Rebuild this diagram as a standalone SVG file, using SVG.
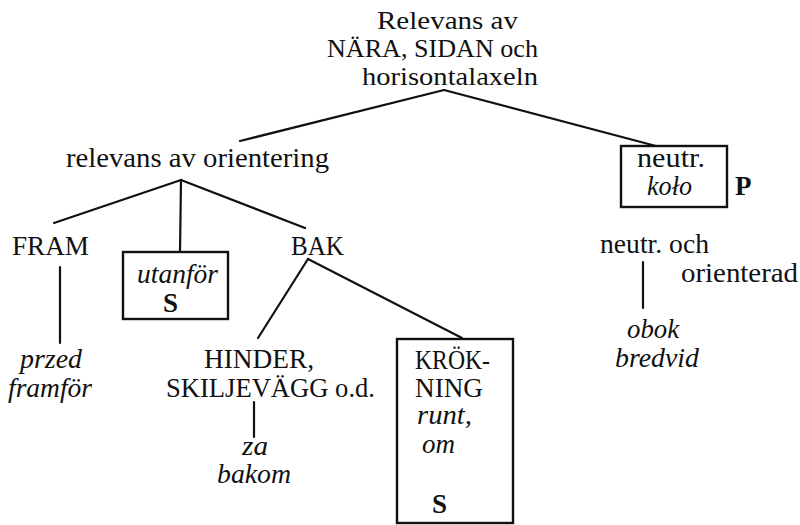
<svg xmlns="http://www.w3.org/2000/svg" width="800" height="525" viewBox="0 0 800 525">
<style>
text{font-family:'Liberation Serif','DejaVu Serif',serif;font-size:27px;fill:#111}
.r{font-size:25px}
.i{font-style:italic}
.b{font-weight:bold}
.ln{stroke:#111;stroke-width:2.2;fill:none;stroke-linecap:round}
.box{stroke:#111;stroke-width:2.4;fill:none}
</style>
<rect width="800" height="525" fill="#fff"/>
<g id="connectors" class="ln">
<line x1="444" y1="90" x2="240" y2="141"/>
<line x1="444" y1="90" x2="656" y2="146"/>
<line x1="181" y1="180" x2="54" y2="223"/>
<line x1="181" y1="180" x2="180" y2="252"/>
<line x1="181" y1="180" x2="305" y2="228"/>
<line x1="60" y1="267" x2="60" y2="343"/>
<line x1="308" y1="259" x2="258" y2="338"/>
<line x1="308" y1="259" x2="462" y2="338"/>
<line x1="254" y1="402" x2="254" y2="437"/>
<line x1="643" y1="262" x2="643" y2="308"/>
</g>
<g id="root">
<text class="r" x="377" y="29" textLength="141" lengthAdjust="spacingAndGlyphs">Relevans av</text>
<text class="r" x="327" y="57" textLength="211" lengthAdjust="spacingAndGlyphs">NÄRA, SIDAN och</text>
<text class="r" x="362" y="85" textLength="176" lengthAdjust="spacingAndGlyphs">horisontalaxeln</text>
</g>
<g id="orientering">
<text x="66" y="167" textLength="263" lengthAdjust="spacingAndGlyphs">relevans av orientering</text>
</g>
<g id="neutr">
<rect class="box" x="621" y="146" width="106" height="61"/>
<text x="637" y="167" textLength="68" lengthAdjust="spacingAndGlyphs">neutr.</text>
<text class="i" x="647" y="195" textLength="45" lengthAdjust="spacingAndGlyphs">koło</text>
<text class="b" x="735" y="195">P</text>
</g>
<g id="fram">
<text x="12" y="255" textLength="77" lengthAdjust="spacingAndGlyphs">FRAM</text>
</g>
<g id="utanfor">
<rect class="box" x="123" y="252" width="105" height="67"/>
<text class="i" x="137" y="283" textLength="81" lengthAdjust="spacingAndGlyphs">utanför</text>
<text class="b" x="163" y="312">S</text>
</g>
<g id="bak">
<text x="291" y="255" textLength="53" lengthAdjust="spacingAndGlyphs">BAK</text>
</g>
<g id="neutr-och">
<text x="600" y="253" textLength="109" lengthAdjust="spacingAndGlyphs">neutr. och</text>
<text x="681" y="282" textLength="117" lengthAdjust="spacingAndGlyphs">orienterad</text>
</g>
<g id="przed">
<text class="i" x="20" y="368" textLength="62" lengthAdjust="spacingAndGlyphs">przed</text>
<text class="i" x="8" y="397" textLength="84" lengthAdjust="spacingAndGlyphs">framför</text>
</g>
<g id="hinder">
<text x="204" y="368" textLength="110" lengthAdjust="spacingAndGlyphs">HINDER,</text>
<text x="166" y="397" textLength="209" lengthAdjust="spacingAndGlyphs">SKILJEVÄGG o.d.</text>
</g>
<g id="za">
<text class="i" x="242" y="455" textLength="26" lengthAdjust="spacingAndGlyphs">za</text>
<text class="i" x="217" y="483" textLength="74" lengthAdjust="spacingAndGlyphs">bakom</text>
</g>
<g id="krokning">
<rect class="box" x="397" y="339" width="116" height="184"/>
<text x="415" y="369" textLength="75" lengthAdjust="spacingAndGlyphs">KRÖK-</text>
<text x="415" y="397" textLength="68" lengthAdjust="spacingAndGlyphs">NING</text>
<text class="i" x="417" y="424" textLength="55" lengthAdjust="spacingAndGlyphs">runt,</text>
<text class="i" x="422" y="453" textLength="33" lengthAdjust="spacingAndGlyphs">om</text>
<text class="b" x="432" y="513">S</text>
</g>
<g id="obok">
<text class="i" x="627" y="338" textLength="52" lengthAdjust="spacingAndGlyphs">obok</text>
<text class="i" x="615" y="367" textLength="84" lengthAdjust="spacingAndGlyphs">bredvid</text>
</g>
</svg>
